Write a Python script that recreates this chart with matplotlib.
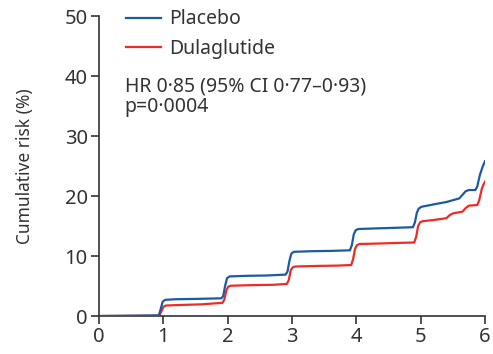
import matplotlib
matplotlib.use("Agg")
import matplotlib.pyplot as plt

plt.rcParams["font.family"] = ["Noto Sans", "DejaVu Sans"]

# cumulative incidence (%) against time (years)
placebo_t = [0, 0.93, 0.96, 0.99, 1.03, 1.2, 1.5, 1.9, 1.93, 1.96, 1.99, 2.03,
             2.3, 2.6, 2.9, 2.93, 2.96, 2.99, 3.03, 3.3, 3.6, 3.9, 3.93, 3.96,
             3.99, 4.03, 4.3, 4.6, 4.88, 4.91, 4.94, 4.97, 5.01, 5.2, 5.4, 5.5,
             5.6, 5.65, 5.7, 5.75, 5.85, 5.88, 5.92, 5.96, 6.0]
placebo_y = [0, 0.1, 1.2, 2.4, 2.7, 2.8, 2.85, 2.95, 3.3, 5.0, 6.3, 6.6,
             6.7, 6.75, 6.9, 7.4, 9.2, 10.4, 10.7, 10.8, 10.85, 10.95, 11.8, 13.6,
             14.3, 14.5, 14.6, 14.7, 14.8, 15.6, 17.2, 17.9, 18.2, 18.6, 19.0, 19.3,
             19.6, 20.2, 20.8, 21.0, 21.0, 21.6, 23.5, 24.8, 25.8]

dula_t = [0, 0.94, 0.97, 1.0, 1.04, 1.3, 1.6, 1.92, 1.95, 1.98, 2.01, 2.05,
          2.4, 2.7, 2.92, 2.95, 2.98, 3.01, 3.05, 3.4, 3.7, 3.92, 3.95, 3.98,
          4.01, 4.05, 4.4, 4.7, 4.9, 4.93, 4.96, 4.99, 5.03, 5.2, 5.4, 5.45,
          5.5, 5.65, 5.7, 5.75, 5.88, 5.91, 5.95, 5.98, 6.0]
dula_y = [0, 0.05, 0.8, 1.5, 1.75, 1.85, 1.95, 2.2, 2.8, 4.3, 4.9, 5.05,
          5.15, 5.2, 5.35, 6.0, 7.6, 8.1, 8.25, 8.35, 8.4, 8.5, 9.5, 11.2,
          11.8, 12.0, 12.1, 12.2, 12.25, 13.2, 15.0, 15.6, 15.8, 16.0, 16.3, 16.8,
          17.1, 17.4, 18.0, 18.4, 18.5, 19.3, 21.2, 22.0, 22.4]

BLUE = "#1c5aa3"
RED = "#ee2b25"
INK = "#333333"

fig = plt.figure(figsize=(4.93, 3.54), dpi=100)
ax = fig.add_axes([0.2008, 0.1073, 0.783, 0.8475])

ax.plot(placebo_t, placebo_y, color=BLUE, lw=1.6, label="Placebo", zorder=3,
        solid_joinstyle="round")
ax.plot(dula_t, dula_y, color=RED, lw=1.6, label="Dulaglutide", zorder=2,
        solid_joinstyle="round")

ax.set_xlim(0, 6)
ax.set_ylim(0, 50)
ax.set_xticks(range(0, 7))
ax.set_yticks(range(0, 51, 10))
ax.spines[["top", "right"]].set_visible(False)
for s in ("left", "bottom"):
    ax.spines[s].set_color(INK)
    ax.spines[s].set_linewidth(1.2)
ax.tick_params(direction="out", length=6, width=1.2, color=INK,
               labelcolor=INK, labelsize=14.5, pad=2)
ax.set_ylabel("Cumulative risk (%)", fontsize=12.5, color=INK, labelpad=22)

ax.legend(loc="upper left", bbox_to_anchor=(0.025, 1.08), frameon=False,
          fontsize=14, handlelength=1.8, handletextpad=0.4, labelspacing=0.5,
          labelcolor=INK)
ax.text(0.067, 0.80, "HR 0·85 (95% CI 0·77–0·93)\np=0·0004",
        transform=ax.transAxes, fontsize=14, color=INK, va="top",
        linespacing=1.05)

fig.savefig("out.png", dpi=100, facecolor="white")
